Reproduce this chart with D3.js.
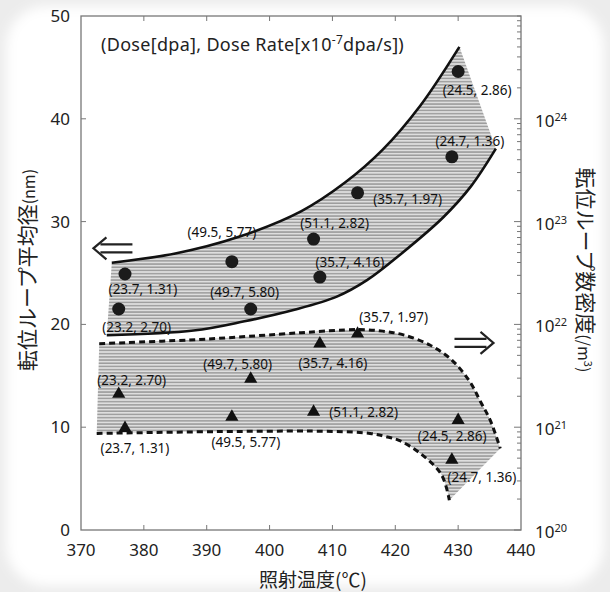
<!DOCTYPE html>
<html>
<head>
<meta charset="utf-8">
<script src="https://cdn.jsdelivr.net/npm/d3@7"></script>
<style>
  body { margin: 0; background: #fff; }
  svg text { font-family: "Noto Sans", "Noto Sans CJK JP", sans-serif; fill: #222; }
  .cjk { font-family: "Noto Sans CJK JP", sans-serif; }
</style>
</head>
<body>
<div id="chart"></div>
<script>
// irradiation conditions (dose [dpa], dose rate [x1e-7 dpa/s])
var doses = [23.2, 23.7, 49.5, 49.7, 51.1, 35.7, 35.7, 24.7, 24.5];
var doseRates = [2.70, 1.31, 5.77, 5.80, 2.82, 4.16, 1.97, 1.36, 2.86];
var temps = [376, 377, 394, 397, 407, 408, 414, 429, 430];

// mean loop diameter (nm) - circles, left axis
var loopSize = [21.5, 24.9, 26.1, 21.5, 28.3, 24.6, 32.8, 36.3, 44.6];
// loop number density (/m3) - triangles, right axis
var loopDensity = [2.1e21, 9.8e20, 1.26e21, 2.95e21, 1.41e21, 6.5e21, 8.1e21, 4.8e20, 1.17e21];

// band around diameter data [temp, nm]
var sizeUpper = [[374.9, 26.0], [385, 26.9], [395, 28.5], [405, 31.0], [412, 33.8], [418, 37.0], [424, 41.3], [430.2, 47.0]];
var sizeLower = [[374.1, 18.95], [387.9, 19.4], [396, 20.3], [403.8, 21.4], [410.7, 22.7], [415.5, 24.3], [421, 26.9], [427.6, 30.4], [432, 33.4], [436.0, 37.1]];

// band around density data [temp, /m3]
var densUpper = [[372.9, 6.5e21], [390, 7.2e21], [405, 8.3e21], [414, 8.9e21], [418, 8.6e21], [421.3, 7.9e21], [425.5, 6.3e21], [429, 4.5e21], [431.9, 2.75e21], [433.5, 1.8e21], [435.1, 1.17e21], [436.7, 6.2e20]];
var densLower = [[372.5, 8.7e20], [395, 9.1e20], [410, 9.1e20], [416, 8.7e20], [418.5, 8.1e20], [420.7, 7.4e20], [423.9, 5.6e20], [427.3, 3.5e20], [428.6, 1.95e20]];

var xTicks = [370, 380, 390, 400, 410, 420, 430, 440];
var yTicks = [0, 10, 20, 30, 40, 50];
var densTicks = [1e20, 1e21, 1e22, 1e23, 1e24];

// label offsets (px) from each marker
var sizeLabelOff = [[18, 18], [18, 15], [-10, -29], [-6, -17], [21, -16], [30, -15], [50, 6], [18, -16], [19, 19]];
var densLabelOff = [[13, -14], [10, 20], [14, 25], [-13, -15], [50, 0], [13, 20], [36, -17], [30, 17], [-6, 16]];

var W = 610, H = 592;
var margin = {top: 16, right: 89, bottom: 62, left: 81};
var width = W - margin.left - margin.right;
var height = H - margin.top - margin.bottom;

var svg = d3.select("#chart").append("svg").attr("width", W).attr("height", H);

// soft scanned-page background
var defs = svg.append("defs");
defs.append("filter").attr("id", "soft").append("feGaussianBlur").attr("stdDeviation", 6);
svg.append("rect").attr("width", W).attr("height", H).attr("fill", "#ececec");
svg.append("rect").attr("x", 6).attr("y", 6).attr("width", W - 12).attr("height", H - 12)
  .attr("rx", 40).attr("fill", "#fff").attr("filter", "url(#soft)");

var hatch = defs.append("pattern").attr("id", "hatch").attr("patternUnits", "userSpaceOnUse")
  .attr("width", 6).attr("height", 3.2);
hatch.append("rect").attr("width", 6).attr("height", 3.2).attr("fill", "#dedede");
hatch.append("rect").attr("y", 1).attr("width", 6).attr("height", 1.3).attr("fill", "#939393");

var g = svg.append("g").attr("transform", "translate(" + margin.left + "," + margin.top + ")");

var x = d3.scaleLinear().domain([370, 440]).range([0, width]);
var y = d3.scaleLinear().domain([0, 50]).range([height, 0]);
var yD = d3.scaleLog().domain([1e20, 1e25]).range([height, 0]);

// resample a catmull-rom curve so the fill follows the drawn edge
function smooth(arr, ys) {
  var p = document.createElementNS("http://www.w3.org/2000/svg", "path");
  p.setAttribute("d", d3.line().x(d => x(d[0])).y(d => ys(d[1])).curve(d3.curveCatmullRom)(arr));
  var L = p.getTotalLength(), out = [];
  for (var i = 0; i <= 80; i++) {
    var q = p.getPointAtLength(L * i / 80);
    out.push([q.x, q.y]);
  }
  return out;
}
function band(upper, lower, ys) {
  return d3.line()(smooth(upper, ys).concat(smooth(lower, ys).reverse())) + "Z";
}

g.append("path").attr("d", band(sizeUpper, sizeLower, y)).attr("fill", "url(#hatch)");
g.append("path").attr("d", band(densUpper, densLower, yD)).attr("fill", "url(#hatch)");

var lineS = d3.line().x(d => x(d[0])).y(d => y(d[1])).curve(d3.curveCatmullRom);
var lineD = d3.line().x(d => x(d[0])).y(d => yD(d[1])).curve(d3.curveCatmullRom);

[sizeUpper, sizeLower].forEach(function(c) {
  g.append("path").attr("d", lineS(c)).attr("fill", "none").attr("stroke", "#111").attr("stroke-width", 2.6);
});
[densUpper, densLower].forEach(function(c) {
  g.append("path").attr("d", lineD(c)).attr("fill", "none").attr("stroke", "#111")
    .attr("stroke-width", 3).attr("stroke-dasharray", "6,4");
});

// frame and ticks
var axisCol = "#777";
g.append("rect").attr("width", width).attr("height", height).attr("fill", "none")
  .attr("stroke", axisCol).attr("stroke-width", 1.3);

xTicks.slice(1, -1).forEach(function(t) {
  g.append("line").attr("x1", x(t)).attr("x2", x(t)).attr("y1", height).attr("y2", height - 5).attr("stroke", axisCol);
  g.append("line").attr("x1", x(t)).attr("x2", x(t)).attr("y1", 0).attr("y2", 5).attr("stroke", axisCol);
});
yTicks.slice(1, -1).forEach(function(t) {
  g.append("line").attr("x1", 0).attr("x2", 5).attr("y1", y(t)).attr("y2", y(t)).attr("stroke", axisCol);
});
yD.ticks().forEach(function(t) {
  var major = densTicks.indexOf(t) >= 0;
  g.append("line").attr("x1", width).attr("x2", width - (major ? 7 : 4)).attr("y1", yD(t)).attr("y2", yD(t))
    .attr("stroke", axisCol);
});

g.selectAll(".xl").data(xTicks).enter().append("text")
  .attr("x", d => x(d)).attr("y", height + 20).attr("dy", "0.35em")
  .attr("text-anchor", "middle").style("font-size", "17px").text(d => d);
g.selectAll(".yl").data(yTicks).enter().append("text")
  .attr("x", -11).attr("y", d => y(d)).attr("dy", "0.35em")
  .attr("text-anchor", "end").style("font-size", "17px").text(d => d);
var dl = g.selectAll(".dl").data(densTicks).enter().append("text")
  .attr("x", width + 14).attr("y", d => yD(d) + 2).attr("dy", "0.35em").style("font-size", "17px");
dl.append("tspan").text("10");
dl.append("tspan").attr("dy", -6).style("font-size", "11px").text(d => Math.round(Math.log10(d)));

// axis titles
svg.append("text").attr("class", "cjk").attr("x", margin.left + width / 2 + 12).attr("y", 587)
  .attr("text-anchor", "middle").style("font-size", "19px").text("照射温度(℃)");
var lt = svg.append("text").attr("class", "cjk").attr("transform", "translate(35,270) rotate(-90)")
  .attr("text-anchor", "middle").style("font-size", "21px");
lt.append("tspan").text("転位ループ平均径");
lt.append("tspan").style("font-size", "16px").text("(nm)");
var rt = svg.append("text").attr("class", "cjk").attr("transform", "translate(578,270) rotate(90)")
  .attr("text-anchor", "middle").style("font-size", "21px");
rt.append("tspan").text("転位ループ数密度");
rt.append("tspan").style("font-size", "16px").text("(/m");
rt.append("tspan").attr("dy", -6).style("font-size", "11px").text("3");
rt.append("tspan").attr("dy", 6).style("font-size", "16px").text(")");

// note
var note = g.append("text").attr("x", 20).attr("y", 35).style("font-size", "18px").style("letter-spacing", "0.3px");
note.append("tspan").text("(Dose[dpa], Dose Rate[x10");
note.append("tspan").attr("dy", -7).style("font-size", "12px").text("-7");
note.append("tspan").attr("dy", 7).text("dpa/s])");

// markers
function cond(i) { return "(" + doses[i].toFixed(1) + ", " + doseRates[i].toFixed(2) + ")"; }

g.selectAll(".c").data(temps).enter().append("circle")
  .attr("cx", d => x(d)).attr("cy", (d, i) => y(loopSize[i])).attr("r", 6.5).attr("fill", "#1b1b1b");
g.selectAll(".t").data(temps).enter().append("path")
  .attr("d", d3.symbol().type(d3.symbolTriangle).size(75))
  .attr("transform", (d, i) => "translate(" + x(d) + "," + yD(loopDensity[i]) + ")")
  .attr("fill", "#111");

g.selectAll(".cl").data(temps).enter().append("text")
  .attr("x", (d, i) => x(d) + sizeLabelOff[i][0]).attr("y", (d, i) => y(loopSize[i]) + sizeLabelOff[i][1])
  .attr("dy", "0.35em").attr("text-anchor", "middle").style("font-size", "13.5px").style("fill", "#111")
  .text((d, i) => cond(i));
g.selectAll(".tl").data(temps).enter().append("text")
  .attr("x", (d, i) => x(d) + densLabelOff[i][0]).attr("y", (d, i) => yD(loopDensity[i]) + densLabelOff[i][1])
  .attr("dy", "0.35em").attr("text-anchor", "middle").style("font-size", "13.5px").style("fill", "#111")
  .text((d, i) => cond(i));

// double arrows pointing to each axis
function dblArrow(cx, cy, dir) {
  var a = g.append("g").attr("transform", "translate(" + cx + "," + cy + ") scale(" + dir + ",1)");
  a.append("path").attr("d", "M-12,-4H20M-12,4H20").attr("stroke", "#222").attr("stroke-width", 2.2);
  a.append("path").attr("d", "M-6,-11L-19,0L-6,11").attr("fill", "none").attr("stroke", "#222").attr("stroke-width", 2.2);
}
dblArrow(x(375), y(27.4), 1);
dblArrow(x(432.6), yD(6.6e21), -1);
</script>
</body>
</html>
